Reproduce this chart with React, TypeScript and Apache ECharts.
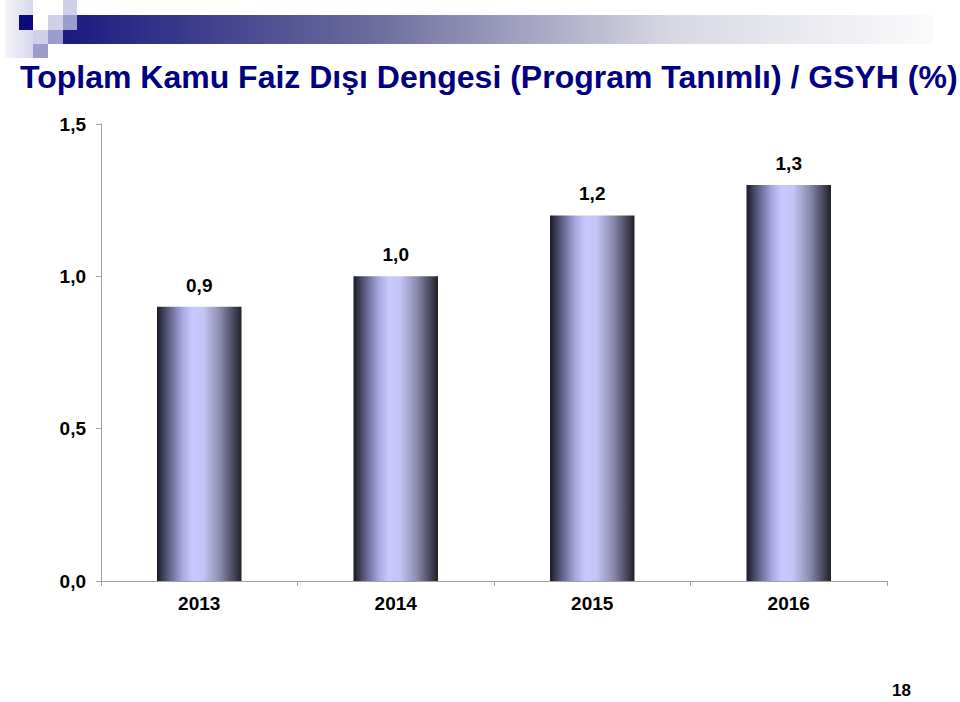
import React, { useEffect, useRef } from "react";
import * as echarts from "echarts";

const categories = ["2013", "2014", "2015", "2016"];
const values = [0.9, 1.0, 1.2, 1.3];
const yTicks = [0, 0.5, 1.0, 1.5];
const titleText = "Toplam Kamu Faiz Dışı Dengesi (Program Tanımlı) / GSYH (%)";
const pageNumber = "18";

const fmt = (v: number) => v.toFixed(1).replace(".", ",");
const FONT = "'Liberation Sans', Arial, sans-serif";

export default function App() {
  const ref = useRef<HTMLDivElement>(null);
  useEffect(() => {
    if (!ref.current) return;
    const chart = echarts.init(ref.current, undefined, { renderer: "svg" });
    const barGrad = new echarts.graphic.LinearGradient(0, 0, 1, 0, [
      { offset: 0, color: "#1a1a26" },
      { offset: 0.12, color: "#55557a" },
      { offset: 0.3, color: "#a8a8e0" },
      { offset: 0.42, color: "#c8c8ff" },
      { offset: 0.55, color: "#c4c4f6" },
      { offset: 0.75, color: "#8a8aae" },
      { offset: 0.9, color: "#4a4a60" },
      { offset: 1, color: "#202028" },
    ]);
    chart.setOption({
      animation: false,
      backgroundColor: "#ffffff",
      grid: { left: 101, right: 73, top: 124, bottom: 121, containLabel: false },
      xAxis: {
        type: "category",
        data: categories,
        axisLine: { lineStyle: { color: "#a0a0a0", width: 1 } },
        axisTick: { show: true, length: 5, lineStyle: { color: "#a0a0a0" } },
        axisLabel: {
          margin: 13,
          color: "#000",
          fontFamily: FONT,
          fontWeight: "bold",
          fontSize: 19,
        },
      },
      yAxis: {
        type: "value",
        min: yTicks[0],
        max: yTicks[yTicks.length - 1],
        interval: 0.5,
        splitLine: { show: false },
        axisLine: { show: true, lineStyle: { color: "#a0a0a0", width: 1 } },
        axisTick: { show: true, length: 5, lineStyle: { color: "#a0a0a0" } },
        axisLabel: {
          margin: 15,
          color: "#000",
          fontFamily: FONT,
          fontWeight: "bold",
          fontSize: 19,
          formatter: (v: number) => fmt(v),
        },
      },
      series: [
        {
          type: "bar",
          data: values,
          barWidth: "43%",
          itemStyle: { color: barGrad },
          label: {
            show: true,
            position: "top",
            distance: 12,
            color: "#000",
            fontFamily: FONT,
            fontWeight: "bold",
            fontSize: 19,
            formatter: (p: any) => fmt(p.value),
          },
        },
      ],
      graphic: [
        {
          type: "rect",
          shape: { x: 63, y: 15, width: 870, height: 29 },
          style: {
            fill: new echarts.graphic.LinearGradient(0, 0, 1, 0, [
              { offset: 0, color: "#1a1a80" },
              { offset: 0.35, color: "#6a6a9c" },
              { offset: 0.7, color: "#d8d8e4" },
              { offset: 1, color: "#fbfbfc" },
            ]),
          },
        },
        {
          type: "rect",
          shape: { x: 5, y: 0, width: 28, height: 58 },
          style: {
            fill: new echarts.graphic.LinearGradient(0, 0, 1, 0, [
              { offset: 0, color: "#f4f4fa" },
              { offset: 1, color: "#d8d8ec" },
            ]),
          },
        },
        { type: "rect", shape: { x: 19, y: 15, width: 14, height: 15 }, style: { fill: "#0a0a80" } },
        { type: "rect", shape: { x: 63, y: 0, width: 14, height: 15 }, style: { fill: "#d0d0e8" } },
        { type: "rect", shape: { x: 48, y: 15, width: 15, height: 15 }, style: { fill: "#d0d0e8" } },
        { type: "rect", shape: { x: 63, y: 15, width: 14, height: 15 }, style: { fill: "#9c9cce" } },
        { type: "rect", shape: { x: 33, y: 30, width: 15, height: 14 }, style: { fill: "#d0d0e8" } },
        { type: "rect", shape: { x: 48, y: 30, width: 15, height: 14 }, style: { fill: "#9c9cce" } },
        { type: "rect", shape: { x: 33, y: 44, width: 15, height: 14 }, style: { fill: "#9c9cce" } },
        {
          type: "text",
          left: 20,
          top: 61,
          style: {
            text: titleText,
            fill: "#000080",
            font: "bold 32px " + FONT,
          },
        },
        {
          type: "text",
          left: 892,
          top: 682,
          style: {
            text: pageNumber,
            fill: "#000",
            font: "bold 17px " + FONT,
          },
        },
      ],
    });
    return () => chart.dispose();
  }, []);
  return <div ref={ref} style={{ width: 960, height: 702, position: "absolute", left: 0, top: 0 }} />;
}
